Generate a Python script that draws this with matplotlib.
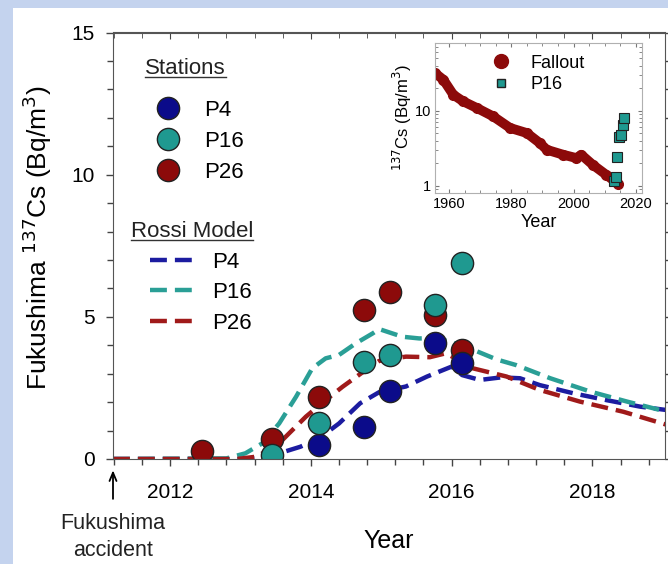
import matplotlib.pyplot as plt
from matplotlib.lines import Line2D
from matplotlib.patches import Rectangle
from matplotlib.ticker import MultipleLocator, LogLocator, NullFormatter

plt.rcParams['font.family'] = ['Liberation Sans', 'DejaVu Sans']

# station measurements (year, Bq/m3)
p4_years = [2014.12, 2014.75, 2015.13, 2015.76, 2016.14]
p4_vals = [0.49, 1.14, 2.39, 4.07, 3.39]
p16_years = [2013.45, 2014.12, 2014.75, 2015.13, 2015.76, 2016.14]
p16_vals = [0.14, 1.28, 3.42, 3.66, 5.42, 6.91]
p26_years = [2012.45, 2013.45, 2014.12, 2014.76, 2015.13, 2015.76, 2016.14]
p26_vals = [0.28, 0.69, 2.19, 5.24, 5.89, 5.07, 3.83]

# Rossi model curves
m4_years = [2011.19, 2012.9, 2013.2, 2013.55, 2013.85, 2014.12, 2014.4, 2014.7, 2014.97,
            2015.35, 2015.65, 2016.0, 2016.15, 2016.4, 2016.7, 2016.97, 2017.25, 2017.73,
            2018.2, 2018.68, 2019.06]
m4_vals = [0, 0, 0.02, 0.2, 0.43, 0.73, 1.25, 1.96, 2.35, 2.55, 2.9, 3.25, 2.95, 2.78,
           2.87, 2.84, 2.6, 2.31, 2.07, 1.84, 1.72]
m16_years = [2011.19, 2012.8, 2013.07, 2013.31, 2013.55, 2013.79, 2014.02, 2014.21, 2014.4,
             2014.64, 2014.88, 2014.97, 2015.3, 2015.54, 2015.8, 2016.0, 2016.2, 2016.64,
             2016.92, 2017.4, 2017.97, 2018.49, 2019.06]
m16_vals = [0, 0.02, 0.2, 0.55, 1.25, 2.19, 3.19, 3.54, 3.66, 4.07, 4.42, 4.57, 4.3, 4.24,
            4.25, 4.1, 3.95, 3.5, 3.3, 2.84, 2.37, 2.02, 1.66]
m26_years = [2011.19, 2012.95, 2013.22, 2013.5, 2013.69, 2013.93, 2014.21, 2014.45, 2014.78,
             2014.97, 2015.35, 2015.69, 2015.92, 2016.3, 2016.78, 2017.25, 2017.82, 2018.44,
             2019.06]
m26_vals = [0, 0, 0.08, 0.43, 0.9, 1.49, 2.07, 2.54, 3.13, 3.45, 3.6, 3.58, 3.72, 3.19,
            2.9, 2.43, 2.02, 1.66, 1.2]

# inset: global fallout background and P16 total
fallout_years = [1955.5, 1958.2, 1961.4, 1964.6, 1968.9, 1974.2, 1979.6, 1985.0, 1989.2,
                 1991.4, 1996.7, 2000.9, 2002.5, 2006.2, 2010.5, 2014.3]
fallout_vals = [31.8, 25.9, 16.3, 13.3, 10.9, 8.4, 5.9, 5.04, 3.7, 3.02, 2.59, 2.34, 2.59,
                1.9, 1.4, 1.06]
inset_p16_years = [2012.9, 2013.5, 2014.1, 2014.7, 2015.1, 2015.8, 2016.2]
inset_p16_vals = [1.15, 1.3, 2.4, 4.5, 4.7, 6.5, 8.0]

station_labels = ['P4', 'P16', 'P26']

navy = '#0b0b8a'
teal = '#1f9990'
darkred = '#8c0a0a'
line_cols = ['#1c1ca0', '#2a9f96', '#a01a1a']

W, H = 668, 564
fig = plt.figure(figsize=(W / 100, H / 100), dpi=100, facecolor='#c4d3ee')
fig.patches.append(Rectangle((13 / W, 0), 1, 1 - 8 / H, transform=fig.transFigure,
                             facecolor='white', edgecolor='none', zorder=-10))

L, R, T, B = 113, 665, 32.5, 459
ax = fig.add_axes([L / W, 1 - B / H, (R - L) / W, (B - T) / H])
ax.set_facecolor('none')


def axx(px):
    return (px - L) / (R - L)


def axy(py):
    return (B - py) / (B - T)


dash = dict(lw=3.2, dashes=(3.8, 1.8))
for yrs, vals, c in zip([m4_years, m16_years, m26_years], [m4_vals, m16_vals, m26_vals],
                        line_cols):
    ax.plot(yrs, vals, color=c, **dash)

mk = dict(ls='none', marker='o', ms=16, mec='#222222', mew=1)
ax.plot(p26_years, p26_vals, mfc=darkred, **mk)
ax.plot(p4_years, p4_vals, mfc=navy, **mk)
ax.plot(p16_years, p16_vals, mfc=teal, **mk)

ax.set_xlim(2011.19, 2019.03)
ax.set_ylim(0, 15)
ax.set_xticks([2012, 2014, 2016, 2018])
ax.set_yticks([0, 5, 10, 15])
ax.xaxis.set_minor_locator(MultipleLocator(0.4))
ax.yaxis.set_minor_locator(MultipleLocator(1))
ax.tick_params(which='both', right=True, labelsize=15, color='#444444', width=1)
ax.tick_params(which='major', length=5)
ax.tick_params(axis='x', which='major', pad=12)
ax.tick_params(axis='y', which='major', pad=8)
ax.tick_params(which='minor', length=4)
top = ax.secondary_xaxis('top')
top.set_xticks([2012, 2014, 2016, 2018])
top.xaxis.set_minor_locator(MultipleLocator(0.4))
top.tick_params(which='both', direction='in', labeltop=False, color='#444444')
top.tick_params(which='major', length=5)
top.tick_params(which='minor', length=4)
for a in (ax, top):
    for s in a.spines.values():
        s.set_color('#555555')
ax.set_xlabel('Year', fontsize=18, labelpad=20)
ax.set_ylabel('Fukushima $^{137}$Cs (Bq/m$^3$)', fontsize=19)
ax.yaxis.set_label_coords(-0.106, axy(238))

# accident marker
ax.annotate('', xy=(2011.19, -0.3), xytext=(2011.19, -1.5), xycoords='data',
            arrowprops=dict(arrowstyle='->,head_length=0.6,head_width=0.25',
                            color='black', lw=1.3), annotation_clip=False)
ax.text(2011.19, -1.9, 'Fukushima\naccident', ha='center', va='top', fontsize=15.5,
        linespacing=1.35, color='#222222')

# legends (titles drawn as underlined text)
st_handles = [Line2D([], [], ls='none', marker='o', ms=16, mfc=c, mec='#222222')
              for c in (navy, teal, darkred)]
leg1 = ax.legend(st_handles, station_labels, loc='upper left',
                 bbox_to_anchor=(axx(141), axy(91)), frameon=False, fontsize=16,
                 labelspacing=0.45, handlelength=1.6, handletextpad=0.85,
                 borderaxespad=0)
ax.add_artist(leg1)
md_handles = [Line2D([], [], color=c, **dash) for c in line_cols]
leg2 = ax.legend(md_handles, station_labels, loc='upper left',
                 bbox_to_anchor=(axx(141), axy(243)), frameon=False, fontsize=16,
                 labelspacing=0.42, handlelength=2.2, handletextpad=0.6,
                 borderaxespad=0)

titles = [ax.text(axx(145), axy(74), 'Stations', transform=ax.transAxes, fontsize=16,
                  va='baseline', color='#222222'),
          ax.text(axx(131), axy(237), 'Rossi Model', transform=ax.transAxes, fontsize=16,
                  va='baseline', color='#222222')]

fig.canvas.draw()
inv = fig.transFigure.inverted()
for t in titles:
    bb = t.get_window_extent()
    (x0, y0), (x1, _) = inv.transform([(bb.x0, bb.y0 + 2), (bb.x1, bb.y0)])
    fig.lines.append(Line2D([x0, x1], [y0, y0], transform=fig.transFigure,
                            color='#333333', lw=1))

# inset
ins = fig.add_axes([435 / W, 1 - 193 / H, (642 - 435) / W, (193 - 43) / H])
ins.plot(fallout_years, fallout_vals, color=darkred, lw=7, marker='o', ms=7,
         solid_capstyle='round', solid_joinstyle='round')
ins.plot(inset_p16_years, inset_p16_vals, ls='none', marker='s', ms=7, mfc=teal,
         mec='#222222', mew=0.8)
ins.set_yscale('log')
ins.set_xlim(1955.5, 2022)
ins.set_ylim(0.8, 80)
ins.set_xticks([1960, 1980, 2000, 2020])
ins.xaxis.set_minor_locator(MultipleLocator(5))
ins.yaxis.set_minor_locator(LogLocator(base=10, subs=range(2, 10), numticks=10))
ins.yaxis.set_minor_formatter(NullFormatter())
ins.set_yticks([1, 10])
ins.set_yticklabels(['1', '10'])
ins.tick_params(which='both', labelsize=10.5, color='#777777', top=True, right=True,
                direction='in', pad=3)
ins.tick_params(which='major', length=3)
ins.tick_params(which='minor', length=2)
for s in ins.spines.values():
    s.set_color('#b0b0b0')
ins.set_xlabel('Year', fontsize=13, labelpad=2)
ins.set_ylabel('$^{137}$Cs (Bq/m$^3$)', fontsize=12, labelpad=0)
ins.legend([Line2D([], [], ls='none', marker='o', ms=10, color=darkred),
            Line2D([], [], ls='none', marker='s', ms=6, mfc=teal, mec='#222222')],
           ['Fallout', 'P16'], loc='upper left', bbox_to_anchor=(0.18, 1.03),
           frameon=False, fontsize=13, handletextpad=0.9, labelspacing=0.25,
           handlelength=1.4)

fig.savefig('out.png', dpi=100, facecolor=fig.get_facecolor())
